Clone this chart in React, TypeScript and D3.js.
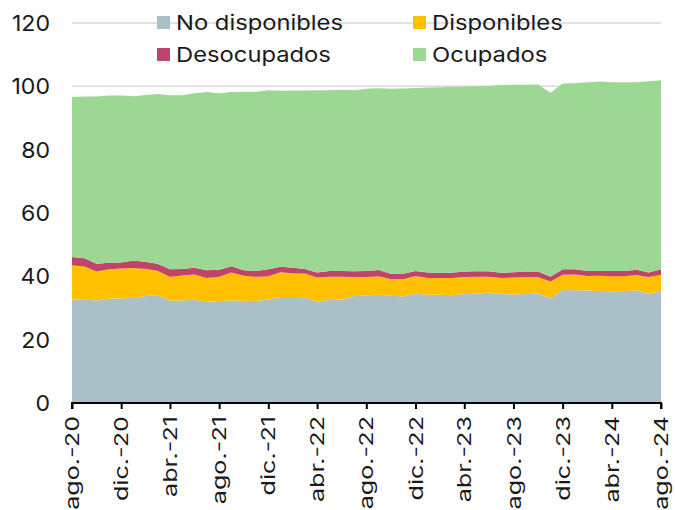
import { useEffect, useRef } from 'react';
import * as d3 from 'd3';

// monthly, ago.-20 .. ago.-24
const months = d3.range(49).map(i => new Date(2020, 7 + i, 1));

const noDisponibles = [
  32.8, 32.7, 32.4, 33.0, 33.0, 33.2, 33.8, 34.0, 32.4, 32.4, 32.6, 32.0, 32.2,
  32.4, 32.3, 32.2, 32.7, 33.5, 33.5, 33.4, 31.9, 32.6, 32.6, 33.7, 34.0,
  34.2, 33.9, 33.6, 34.6, 34.2, 34.2, 34.0, 34.4, 34.5, 34.9, 34.4, 34.3,
  34.4, 34.6, 33.0, 35.7, 35.6, 35.5, 35.4, 35.3, 35.3, 35.6, 34.5, 35.2,
];
const disponibles = [
  10.7, 10.4, 9.1, 9.2, 9.5, 9.4, 8.5, 7.8, 7.5, 7.9, 8.0, 7.5, 7.7,
  8.8, 7.9, 7.7, 7.3, 7.8, 7.4, 7.5, 7.7, 7.3, 7.3, 6.1, 5.8,
  5.8, 5.2, 5.5, 5.5, 5.3, 5.3, 5.5, 5.4, 5.4, 5.0, 5.1, 5.3,
  5.3, 5.1, 5.4, 4.8, 5.0, 4.6, 4.8, 4.7, 4.7, 4.8, 5.3, 5.3,
];
const desocupados = [
  2.6, 2.6, 2.5, 2.1, 1.9, 2.4, 2.2, 2.2, 2.3, 2.0, 2.1, 2.4, 2.2,
  2.0, 1.7, 1.8, 2.2, 1.7, 1.8, 1.4, 1.6, 1.8, 1.8, 1.8, 1.9,
  2.0, 1.7, 1.7, 1.6, 1.7, 1.6, 1.6, 1.7, 1.7, 1.7, 1.6, 1.7,
  1.8, 1.8, 1.5, 1.7, 1.6, 1.6, 1.5, 1.7, 1.7, 1.7, 1.4, 1.7,
];
const ocupados = [
  50.5, 51.1, 52.8, 52.8, 52.7, 51.9, 52.8, 53.6, 55.0, 54.9, 55.1, 56.3, 55.7,
  55.0, 56.4, 56.6, 56.6, 55.6, 56.0, 56.4, 57.6, 57.1, 57.2, 57.2, 57.5,
  57.4, 58.4, 58.5, 57.8, 58.4, 58.6, 58.7, 58.4, 58.4, 58.5, 59.3, 59.2,
  59.0, 59.1, 58.1, 58.7, 58.8, 59.6, 59.8, 59.6, 59.6, 59.2, 60.4, 59.7,
];

const seriesKeys = ['No disponibles', 'Disponibles', 'Desocupados', 'Ocupados'];
const colors = ['#abbfc9', '#ffc000', '#c0446a', '#9dd794'];
const yTicks = [0, 20, 40, 60, 80, 100, 120];
const mesLabels = ['ene.', 'feb.', 'mar.', 'abr.', 'may.', 'jun.', 'jul.', 'ago.', 'sep.', 'oct.', 'nov.', 'dic.'];

const W = 675, H = 510;
const font = 'Inter, "Noto Sans", sans-serif';

const App = () => {
  const ref = useRef<SVGSVGElement | null>(null);

  useEffect(() => {
    const svg = d3.select(ref.current);
    svg.selectAll('*').remove();

    const margin = { top: 23, right: 14, bottom: 107, left: 72 };
    const width = W - margin.left - margin.right;
    const height = H - margin.top - margin.bottom;

    const rows = months.map((m, i) => ({
      date: m,
      'No disponibles': noDisponibles[i],
      Disponibles: disponibles[i],
      Desocupados: desocupados[i],
      Ocupados: ocupados[i],
    }));

    const x = d3.scaleTime().domain([months[0], months[months.length - 1]]).range([0, width]);
    const y = d3.scaleLinear().domain([0, 120]).range([height, 0]);

    const g = svg.append('g').attr('transform', `translate(${margin.left},${margin.top})`);

    // grid
    g.selectAll('.grid')
      .data(yTicks.filter(t => t > 0))
      .enter().append('line')
      .attr('x1', 0).attr('x2', width)
      .attr('y1', d => y(d)).attr('y2', d => y(d))
      .attr('stroke', '#d9d9d9').attr('stroke-width', 1.5);

    const stack = d3.stack<any>().keys(seriesKeys);
    const layers = stack(rows);

    const area = d3.area<any>()
      .x(d => x(d.data.date))
      .y0(d => y(d[0]))
      .y1(d => y(d[1]));

    g.selectAll('.layer')
      .data(layers)
      .enter().append('path')
      .attr('d', area)
      .attr('fill', (_d, i) => colors[i]);

    // y labels
    g.selectAll('.ylab')
      .data(yTicks)
      .enter().append('text')
      .attr('transform', d => `translate(-22,${y(d)}) scale(1.05,1)`)
      .attr('dy', '0.36em')
      .attr('text-anchor', 'end')
      .attr('font-family', font)
      .attr('font-size', 22)
      .attr('fill', '#1a1a1a')
      .text(d => d);

    // x axis
    const tickDates = months.filter((_m, i) => i % 4 === 0);
    const xAxis = d3.axisBottom(x)
      .tickValues(tickDates)
      .tickSize(6)
      .tickFormat((d: any) => `${mesLabels[d.getMonth()]}-${String(d.getFullYear()).slice(2)}`);

    const ax = g.append('g')
      .attr('transform', `translate(0,${height})`)
      .call(xAxis);
    ax.select('.domain').attr('stroke', '#000').attr('stroke-width', 2).attr('d', `M0,6V0H${width}V6`);
    ax.selectAll('.tick line').attr('stroke', '#000').attr('stroke-width', 2);
    ax.selectAll('.tick text')
      .attr('font-family', font)
      .attr('font-size', 18.5)
      .attr('fill', '#1a1a1a')
      .attr('text-anchor', 'end')
      .attr('transform', 'rotate(-90) scale(1.36,1)')
      .attr('x', -13 / 1.36)
      .attr('y', 0)
      .attr('dy', '0.36em');

    // legend
    const legendItems = [
      { key: 'No disponibles', col: 0, row: 0, c: colors[0] },
      { key: 'Disponibles', col: 1, row: 0, c: colors[1] },
      { key: 'Desocupados', col: 0, row: 1, c: colors[2] },
      { key: 'Ocupados', col: 1, row: 1, c: colors[3] },
    ];
    const lg = svg.append('g');
    legendItems.forEach(it => {
      const lx = 157 + it.col * 256;
      const ly = 16 + it.row * 32;
      lg.append('rect').attr('x', lx).attr('y', ly).attr('width', 13).attr('height', 13).attr('fill', it.c);
      lg.append('text')
        .attr('transform', `translate(${lx + 19},${ly + 6.5}) scale(1.16,1)`)
        .attr('dy', '0.36em')
        .attr('font-family', font)
        .attr('font-size', 20.5)
        .attr('fill', '#1a1a1a')
        .text(it.key);
    });
  }, []);

  return <svg ref={ref} width={W} height={H} style={{ position: 'absolute', left: 0, top: 0 }}></svg>;
};

export default App;
